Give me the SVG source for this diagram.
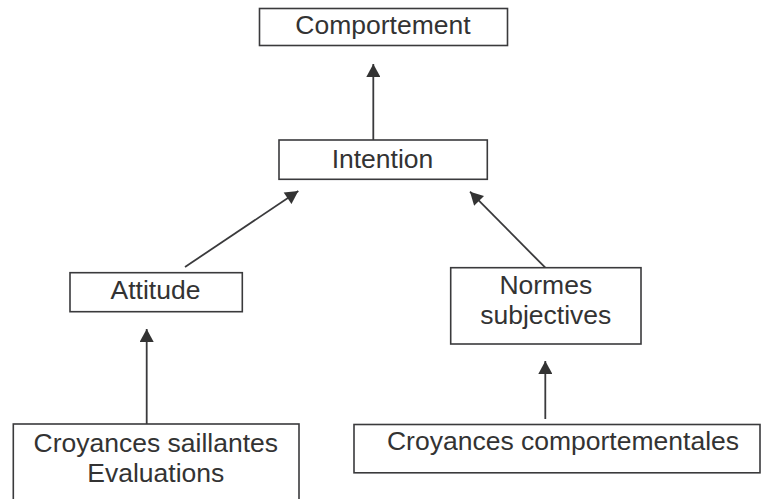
<svg xmlns="http://www.w3.org/2000/svg" width="762" height="499" viewBox="0 0 762 499">
<defs>
<style>
.box{fill:#fff;stroke:#3a3a3c;stroke-width:1.6}
.lbl{font-family:"Liberation Sans",Arial,sans-serif;font-size:26.5px;fill:#333;text-anchor:middle}
.conn{stroke:#3a3a3c;stroke-width:1.8;fill:none;marker-end:url(#ah)}
</style>
<marker id="ah" markerUnits="userSpaceOnUse" markerWidth="14" markerHeight="14" viewBox="0 0 12 13" refX="12" refY="6.5" orient="auto">
<path d="M0,0 L12,6.5 L0,13 Z" fill="#333"/>
</marker>
</defs>
<rect width="762" height="499" fill="#fff"/>
<g id="connectors">
<line class="conn" x1="373.3" y1="140" x2="373.3" y2="64"/>
<line class="conn" x1="185" y1="267" x2="298.3" y2="191"/>
<line class="conn" x1="545.3" y1="267.7" x2="470" y2="191.7"/>
<line class="conn" x1="146.7" y1="424" x2="146.7" y2="329"/>
<line class="conn" x1="545.3" y1="419" x2="545.3" y2="361"/>
</g>
<g id="comportement">
<rect class="box" x="259.5" y="8.5" width="248" height="37"/>
<text class="lbl" x="383" y="34.3">Comportement</text>
</g>
<g id="intention">
<rect class="box" x="279" y="140" width="208.3" height="39.3"/>
<text class="lbl" x="382.5" y="167.7">Intention</text>
</g>
<g id="attitude">
<rect class="box" x="70" y="272.7" width="172.3" height="39"/>
<text class="lbl" x="155.5" y="299">Attitude</text>
</g>
<g id="normes">
<rect class="box" x="450.7" y="267.7" width="190.3" height="76.3"/>
<text class="lbl" x="545.8" y="294.3">Normes</text>
<text class="lbl" x="545.8" y="324.3">subjectives</text>
</g>
<g id="croyances-saillantes">
<rect class="box" x="13.3" y="424" width="285.7" height="90"/>
<text class="lbl" x="155.8" y="451.7">Croyances saillantes</text>
<text class="lbl" x="155.8" y="481.7">Evaluations</text>
</g>
<g id="croyances-comportementales">
<rect class="box" x="354" y="424.5" width="406" height="48.3"/>
<text class="lbl" x="563" y="450">Croyances comportementales</text>
</g>
</svg>
